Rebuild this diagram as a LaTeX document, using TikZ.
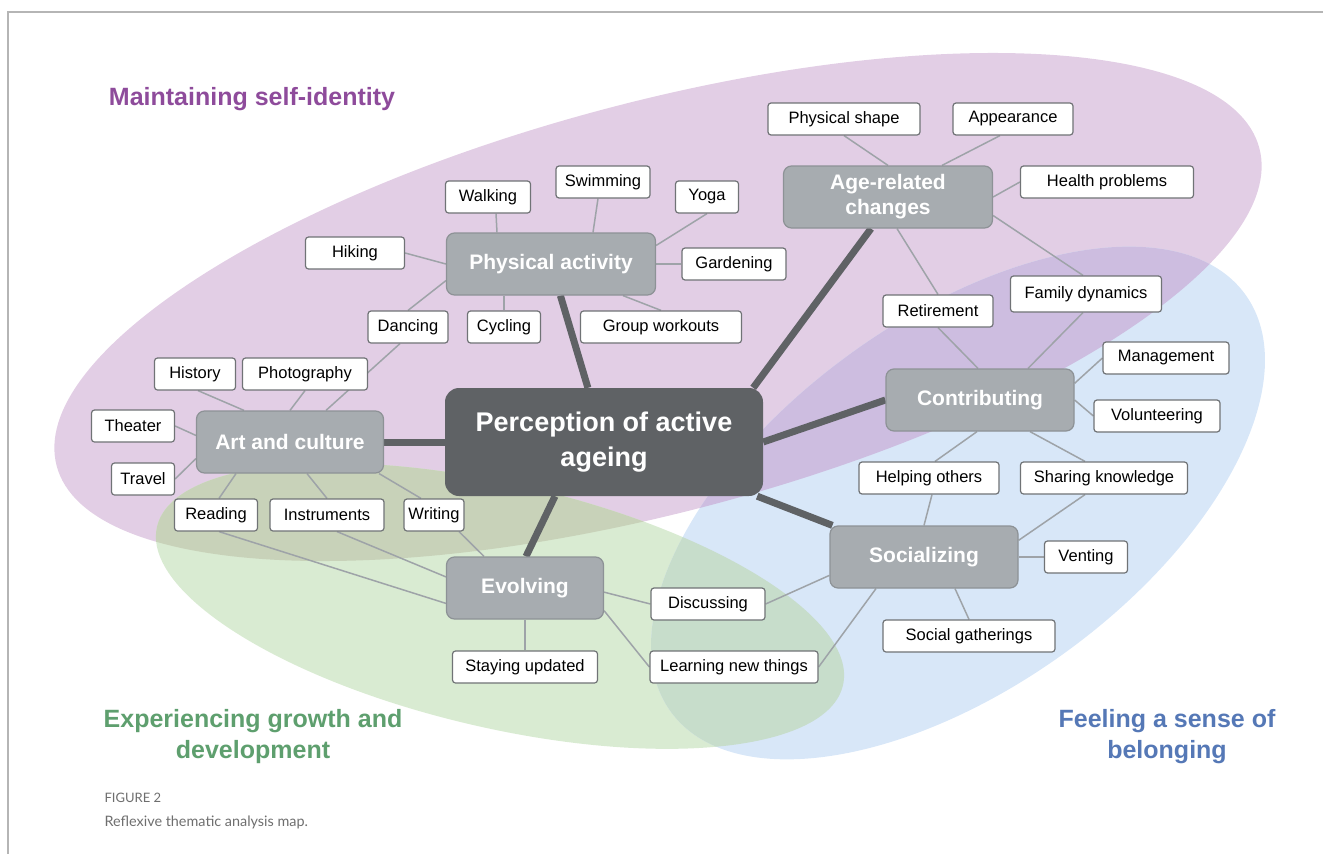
\documentclass[tikz,border=0pt]{standalone}
\usepackage{fontspec}
\usepackage{tikz}
\setmainfont{Liberation Sans}
\newfontfamily\capfamily{Lato}

\definecolor{zonepurple}{HTML}{E2CEE5}
\definecolor{zoneblue}{HTML}{D8E7F8}
\definecolor{zonegreen}{HTML}{D9EBD2}
\definecolor{mixPB}{HTML}{CDBDE0}
\definecolor{mixPG}{HTML}{C8D2B9}
\definecolor{mixGB}{HTML}{C7DDCB}
\definecolor{corefill}{HTML}{5F6265}
\definecolor{themefill}{HTML}{A7ACB0}
\definecolor{themeline}{HTML}{8D9296}
\definecolor{leafline}{HTML}{707376}
\definecolor{linkgrey}{HTML}{9EA3A8}
\definecolor{selfpurple}{HTML}{8E4B9B}
\definecolor{growgreen}{HTML}{5E9F6E}
\definecolor{belongblue}{HTML}{5578B6}
\definecolor{capgrey}{HTML}{6E6E6E}
\definecolor{framegrey}{HTML}{B5B5B5}

\pgfdeclarelayer{zones}
\pgfdeclarelayer{links}
\pgfsetlayers{zones,links,main}

\newcommand\selfzone{(658,307) ellipse [x radius=622, y radius=205, rotate=14.8]}
\newcommand\growzone{(500,606) ellipse [x radius=352, y radius=122, rotate=-13]}
\newcommand\belongzone{(958,503) ellipse [x radius=355, y radius=184, rotate=36]}

\tikzset{
    leaf/.style={draw=leafline, fill=white, rounded corners=3pt, line width=1.2pt,
        font=\fontsize{16.5}{19}\selectfont, inner sep=0pt, minimum height=32pt},
    theme/.style={draw=themeline, fill=themefill, rounded corners=8pt, line width=1.2pt,
        font=\fontsize{21}{25}\selectfont\bfseries, text=white, align=center,
        inner sep=0pt, minimum height=62pt},
    core/.style={fill=corefill, rounded corners=14pt, text=white, align=center,
        font=\fontsize{27}{35}\selectfont\bfseries, minimum width=318pt, minimum height=108pt},
    link/.style={draw=linkgrey, line width=1.5pt},
    spoke/.style={draw=corefill, line width=7pt},
    zonelabel/.style={font=\fontsize{25}{31}\selectfont\bfseries, align=center}
}

\begin{document}
\begin{tikzpicture}[x=1pt, y=-1pt]
    \useasboundingbox (0,0) rectangle (1323,854);
    \draw[framegrey, line width=1.2pt] (8,854) -- (8,12) -- (1323,12);

    % zones
    \begin{pgfonlayer}{zones}
        \fill[zonepurple] \selfzone;
        \fill[zonegreen] \growzone;
        \fill[zoneblue] \belongzone;
        \begin{scope}
            \clip \selfzone;
            \fill[mixPB] \belongzone;
            \fill[mixPG] \growzone;
        \end{scope}
        \begin{scope}
            \clip \growzone;
            \fill[mixGB] \belongzone;
        \end{scope}
    \end{pgfonlayer}

    \node[zonelabel, text=selfpurple] (selflabel) at (252,99) {Maintaining self-identity};
    \node[zonelabel, text=growgreen] (growlabel) at (253,737) {Experiencing growth and\\development};
    \node[zonelabel, text=belongblue] (belonglabel) at (1167,737) {Feeling a sense of\\belonging};

    % centre and themes
    \node[core] (core) at (604,442) {Perception of active\\ageing};
    \node[theme, minimum width=209pt] (physical) at (551,264) {Physical activity};
    \node[theme, minimum width=209pt] (agechange) at (888,197) {Age-related\\changes};
    \node[theme, minimum width=187pt] (artcult) at (290,442) {Art and culture};
    \node[theme, minimum width=188pt] (contrib) at (980,400) {Contributing};
    \node[theme, minimum width=188pt] (social) at (924,557) {Socializing};
    \node[theme, minimum width=157pt] (evolve) at (525,588) {Evolving};

    % leaves
    \node[leaf, minimum width=85pt] (walking) at (488,197) {Walking};
    \node[leaf, minimum width=94pt] (swimming) at (603,182) {Swimming};
    \node[leaf, minimum width=63pt] (yoga) at (707,197) {Yoga};
    \node[leaf, minimum width=99pt] (hiking) at (355,253) {Hiking};
    \node[leaf, minimum width=104pt] (gardening) at (734,264) {Gardening};
    \node[leaf, minimum width=80pt] (dancing) at (408,327) {Dancing};
    \node[leaf, minimum width=73pt] (cycling) at (504,327) {Cycling};
    \node[leaf, minimum width=161pt] (workouts) at (661,327) {Group workouts};
    \node[leaf, minimum width=81pt] (history) at (195,374) {History};
    \node[leaf, minimum width=125pt] (photo) at (305,374) {Photography};
    \node[leaf, minimum width=83pt] (theater) at (133,426) {Theater};
    \node[leaf, minimum width=63pt] (travel) at (143,479) {Travel};
    \node[leaf, minimum width=83pt] (reading) at (216,515) {Reading};
    \node[leaf, minimum width=114pt] (instruments) at (327,515) {Instruments};
    \node[leaf, minimum width=60pt] (writing) at (434,515) {Writing};
    \node[leaf, minimum width=145pt] (updated) at (525,667) {Staying updated};
    \node[leaf, minimum width=114pt] (discuss) at (708,604) {Discussing};
    \node[leaf, minimum width=168pt] (learning) at (734,667) {Learning new things};
    \node[leaf, minimum width=152pt] (shape) at (844,119) {Physical shape};
    \node[leaf, minimum width=120pt] (appear) at (1013,119) {Appearance};
    \node[leaf, minimum width=173pt] (health) at (1107,182) {Health problems};
    \node[leaf, minimum width=110pt] (retire) at (938,311) {Retirement};
    \node[leaf, minimum width=151pt, minimum height=36pt] (family) at (1086,294) {Family dynamics};
    \node[leaf, minimum width=126pt] (manage) at (1166,358) {Management};
    \node[leaf, minimum width=126pt] (volunteer) at (1157,416) {Volunteering};
    \node[leaf, minimum width=140pt] (helping) at (929,478) {Helping others};
    \node[leaf, minimum width=167pt] (sharing) at (1104,478) {Sharing knowledge};
    \node[leaf, minimum width=83pt] (venting) at (1086,557) {Venting};
    \node[leaf, minimum width=172pt] (gather) at (969,636) {Social gatherings};

    \node[anchor=west, font=\capfamily\fontsize{13}{15}\selectfont, text=capgrey] (figno) at (101,798) {FIGURE 2};
    \node[anchor=west, font=\capfamily\fontsize{14.4}{17}\selectfont, text=capgrey] (caption) at (101,822) {Reflexive thematic analysis map.};

    \begin{pgfonlayer}{links}
        % spokes
        \draw[spoke] (core) -- (physical);
        \draw[spoke] ([xshift=-10pt]core.north east) -- ([xshift=-17pt]agechange.south);
        \draw[spoke] (core.east) -- (contrib.west);
        \draw[spoke] ([xshift=-6pt]core.south east) -- ([xshift=3pt]social.north west);
        \draw[spoke] ([xshift=-49pt]core.south) -- ([xshift=1pt]evolve.north);
        \draw[spoke] (core.west) -- (artcult.east);

        % physical activity
        \draw[link] (hiking.east) -- (physical.west);
        \draw[link] ([xshift=8pt]walking.south) -- ([xshift=-54pt]physical.north);
        \draw[link] ([xshift=-5pt]swimming.south) -- ([xshift=42pt]physical.north);
        \draw[link] (yoga.south) -- (physical.10);
        \draw[link] (gardening.west) -- (physical.east);
        \draw[link] (workouts.north) -- ([xshift=72pt]physical.south);
        \draw[link] (cycling.north) -- ([xshift=-47pt]physical.south);
        \draw[link] (dancing.north) -- (physical.189);
        \draw[link] ([xshift=-8pt]dancing.south) -- ([xshift=36pt]artcult.north);

        % art and culture
        \draw[link] ([xshift=3pt]history.south) -- ([xshift=-46pt]artcult.north);
        \draw[link] (photo.south) -- (artcult.north);
        \draw[link] (theater.east) -- (artcult.176);
        \draw[link] (travel.east) -- (artcult.190);
        \draw[link] ([xshift=-54pt]artcult.south) -- ([xshift=3pt]reading.north);
        \draw[link] ([xshift=17pt]artcult.south) -- (instruments.north);
        \draw[link] ([xshift=-5pt]artcult.south east) -- ([xshift=-13pt]writing.north);

        % evolving
        \draw[link] ([xshift=25pt]writing.south) -- ([xshift=-41pt]evolve.north);
        \draw[link] ([xshift=3pt]reading.south) -- (evolve.191);
        \draw[link] ([xshift=10pt]instruments.south) -- (evolve.172);
        \draw[link] (updated.north) -- (evolve.south);
        \draw[link] (discuss.west) -- (evolve.-3);
        \draw[link] (learning.west) -- (evolve.-16);

        % socializing
        \draw[link] (discuss.east) -- (social.191);
        \draw[link] (learning.east) -- ([xshift=-48pt]social.south);
        \draw[link] (gather.north) -- ([xshift=31pt]social.south);
        \draw[link] (venting.west) -- (social.east);
        \draw[link] ([xshift=-19pt]sharing.south) -- (social.10);
        \draw[link] ([xshift=3pt]helping.south) -- (social.north);

        % contributing
        \draw[link] ([xshift=6pt]helping.north) -- ([xshift=-3pt]contrib.south);
        \draw[link] ([xshift=-19pt]sharing.north) -- ([xshift=50pt]contrib.south);
        \draw[link] (manage.west) -- (contrib.10);
        \draw[link] (volunteer.west) -- (contrib.east);
        \draw[link] (retire.south) -- ([xshift=-2pt]contrib.north);
        \draw[link] ([xshift=-3pt]family.south) -- ([xshift=48pt]contrib.north);

        % age-related changes
        \draw[link] (shape.south) -- (agechange.north);
        \draw[link] ([xshift=-13pt]appear.south) -- ([xshift=54pt]agechange.north);
        \draw[link] (health.west) -- (agechange.east);
        \draw[link] (agechange.-10) -- ([xshift=-3pt]family.north);
        \draw[link] ([xshift=9pt]agechange.south) -- (retire.north);
    \end{pgfonlayer}
\end{tikzpicture}
\end{document}
